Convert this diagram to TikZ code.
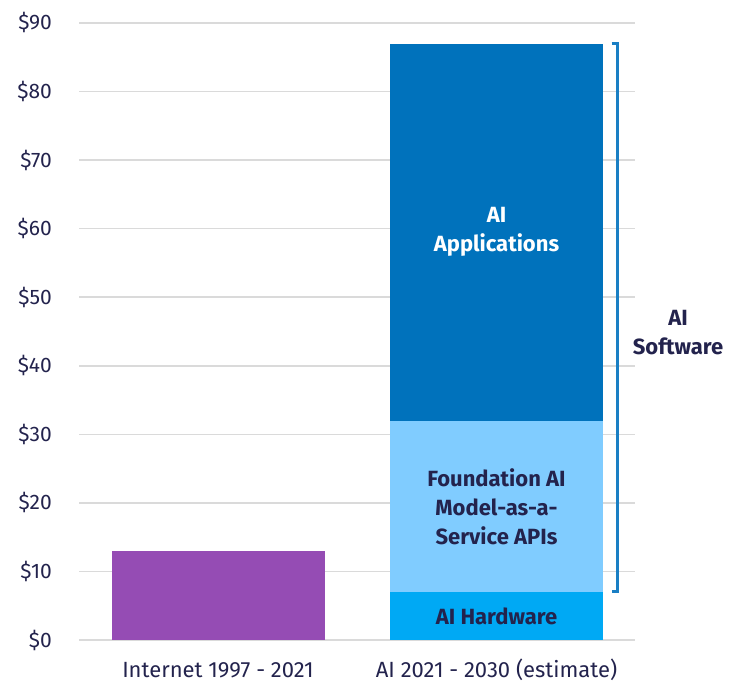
\documentclass[tikz,border=0pt]{standalone}
\usepackage{fontspec}
\setmainfont{Fira Sans}
\definecolor{inkblue}{HTML}{23234D}
\definecolor{gridgray}{HTML}{DADADA}
\definecolor{appblue}{HTML}{0072BC}
\definecolor{apiblue}{HTML}{80CCFF}
\definecolor{hwblue}{HTML}{00A9F4}
\definecolor{netpurple}{HTML}{954CB4}
\definecolor{bracketblue}{HTML}{1A7FC4}
\tikzset{
  ticklabel/.style={anchor=east, text=inkblue, font=\fontsize{21}{25}\selectfont, inner sep=0pt},
  catlabel/.style={anchor=center, text=inkblue, font=\fontsize{22}{26}\selectfont, inner sep=0pt},
  barlabel/.style={anchor=center, align=center, font=\bfseries\fontsize{22}{29}\selectfont, inner sep=0pt},
  gridline/.style={draw=gridgray, line width=1.6pt},
}
\begin{document}
\begin{tikzpicture}[x=1pt, y=6.856pt]
	\useasboundingbox (0,-6.27) rectangle (737,93.35);
	% grid and value axis
	\foreach \v in {0,10,...,90}{
		\draw[gridline] (79,\v) -- (635,\v);
		\node[ticklabel] (tick\v) at (52,\v){\$\v};
	}
	% bars
	\fill[netpurple] (111.7,0) rectangle (325,13);
	\fill[hwblue] (390,0) rectangle (603,7);
	\fill[apiblue] (390,7) rectangle (603,32);
	\fill[appblue] (390,32) rectangle (603,87);
	\node[barlabel, text=white] (apps) at (496.5,59.5){AI\\Applications};
	\node[barlabel, text=inkblue] (apis) at (496.5,19.5){Foundation AI\\Model-as-a-\\Service APIs};
	\node[barlabel, text=inkblue] (hw) at (496.5,3.5){AI Hardware};
	% bracket for the software part
	\coordinate (brtop) at (617.5,87);
	\coordinate (brbot) at (617.5,7.1);
	\draw[bracketblue, line width=2.6pt] ([xshift=-6pt]brtop) -- (brtop) -- (brbot) -- ([xshift=-6pt]brbot);
	\node[barlabel, text=inkblue] (soft) at (678,44.9){AI\\Software};
	% categories
	\node[catlabel] (cat1) at (218,-4.38){Internet 1997 - 2021};
	\node[catlabel] (cat2) at (496.5,-4.38){AI 2021 - 2030 (estimate)};
\end{tikzpicture}
\end{document}
